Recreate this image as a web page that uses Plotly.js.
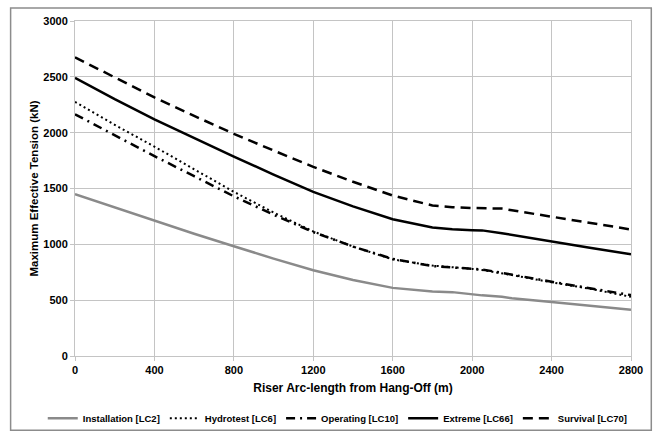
<!DOCTYPE html>
<html>
<head>
<meta charset="utf-8">
<script src="https://cdn.plot.ly/plotly-3.0.1.min.js"></script>
<style>html,body{margin:0;padding:0;background:#fff;}#chart{width:656px;height:432px;}</style>
</head>
<body>
<div id="chart"></div>
<script>
const arcLength = [0, 200, 400, 600, 800, 1000, 1200, 1400, 1600, 1800, 1900, 2000, 2050, 2150, 2200, 2400, 2600, 2800];
const installation = [1450, 1330, 1210, 1095, 983, 872, 768, 680, 610, 578, 572, 550, 543, 530, 518, 484, 450, 415];
const hydrotest    = [2275, 2070, 1875, 1670, 1470, 1285, 1115, 980, 865, 810, 798, 780, 770, 742, 725, 660, 600, 530];
const operating    = [2165, 1975, 1790, 1610, 1430, 1265, 1110, 980, 870, 805, 795, 785, 775, 745, 728, 665, 605, 545];
const extreme      = [2490, 2300, 2120, 1950, 1785, 1625, 1470, 1340, 1225, 1150, 1135, 1127, 1125, 1100, 1085, 1022, 968, 912];
const survival     = [2675, 2495, 2315, 2150, 1990, 1840, 1694, 1560, 1437, 1348, 1333, 1325, 1323, 1320, 1305, 1248, 1190, 1133];
const seriesNames = ["Installation [LC2]", "Hydrotest [LC6]", "Operating [LC10]", "Extreme [LC66]", "Survival [LC70]"];
const xTicks = [0, 400, 800, 1200, 1600, 2000, 2400, 2800];
const yTicks = [0, 500, 1000, 1500, 2000, 2500, 3000];

const font = "Liberation Sans, Arial, sans-serif";
const grid = "#c4c4c4";
const traces = [
  {x: arcLength, y: installation, name: seriesNames[0], mode: "lines", line: {color: "#8a8a8a", width: 2.5}},
  {x: arcLength, y: hydrotest, name: seriesNames[1], mode: "lines", line: {color: "#000", width: 2, dash: "2px,3px"}},
  {x: arcLength, y: operating, name: seriesNames[2], mode: "lines", line: {color: "#000", width: 2.5, dash: "9px,5px,2px,5px"}},
  {x: arcLength, y: extreme, name: seriesNames[3], mode: "lines", line: {color: "#000", width: 2.5}},
  {x: arcLength, y: survival, name: seriesNames[4], mode: "lines", line: {color: "#000", width: 2.5, dash: "10px,6px"}}
];
const layout = {
  width: 656, height: 432,
  margin: {l: 75, r: 25, t: 21, b: 76, pad: 0, autoexpand: false},
  paper_bgcolor: "#fff", plot_bgcolor: "#fff",
  font: {family: font, size: 11, color: "#000"},
  showlegend: true,
  legend: {orientation: "h", x: -0.058, xanchor: "left", y: -0.186, yanchor: "middle",
           font: {family: font, size: 9.5, color: "#000", weight: "bold"}, itemwidth: 30,
           bgcolor: "rgba(0,0,0,0)"},
  xaxis: {range: [0, 2800], tickvals: xTicks, ticktext: xTicks.map(String), showgrid: true, gridcolor: grid, gridwidth: 1,
          zeroline: false, showline: true, linecolor: grid, mirror: true, ticks: "outside", ticklen: 4, tickcolor: grid,
          automargin: false,
          tickfont: {family: font, size: 11, color: "#000", weight: "bold"},
          title: {text: "Riser Arc-length from Hang-Off (m)", font: {family: font, size: 12, color: "#000", weight: "bold"}, standoff: 8}},
  yaxis: {range: [0, 3000], tickvals: yTicks, ticktext: yTicks.map(String), showgrid: true, gridcolor: grid, gridwidth: 1,
          zeroline: false, showline: true, linecolor: grid, mirror: true, ticks: "outside", ticklen: 4, tickcolor: grid,
          automargin: false,
          tickfont: {family: font, size: 11, color: "#000", weight: "bold"},
          title: {text: "Maximum Effective Tension (kN)", font: {family: font, size: 11.5, color: "#000", weight: "bold"}, standoff: 2}},
  shapes: [{type: "rect", xref: "paper", yref: "paper", x0: -0.1158, x1: 1.0365, y0: -0.222, y1: 1.039,
            line: {color: "#8c8c8c", width: 1.5}, fillcolor: "rgba(0,0,0,0)", layer: "below"}]
};
Plotly.newPlot("chart", traces, layout, {staticPlot: true, displayModeBar: false});
</script>
</body>
</html>
